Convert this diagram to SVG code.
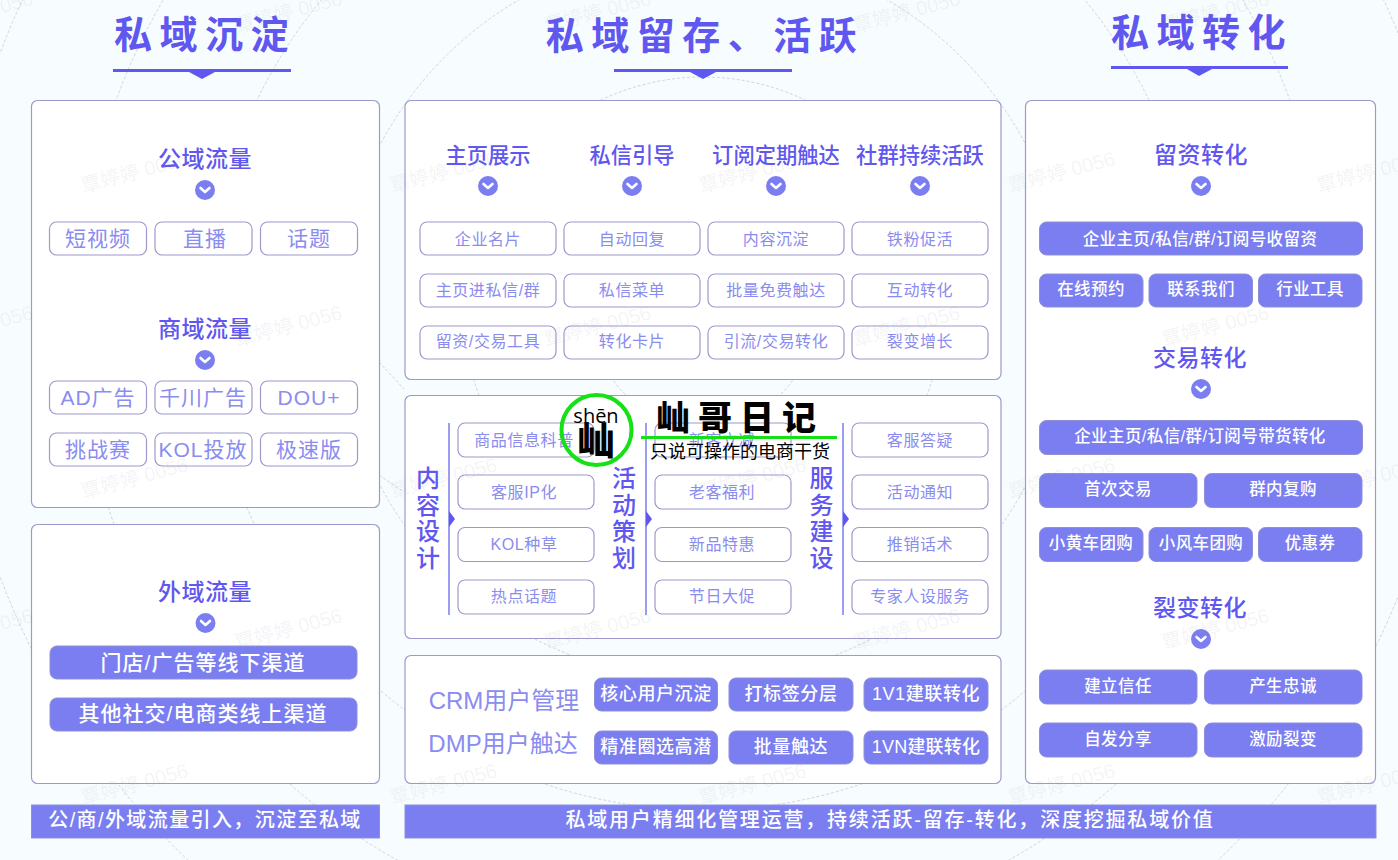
<svg xmlns="http://www.w3.org/2000/svg" width="1398" height="860" viewBox="0 0 1398 860">
<style>
text{font-family:"Liberation Sans","Noto Sans CJK SC",sans-serif;text-anchor:middle;dominant-baseline:central}
.bg{fill:#f7fdfe}
.ring{fill:none;stroke:#cfd3e4;stroke-width:1;stroke-dasharray:3 2}
.panel{fill:#fff;stroke:#9d99cc;stroke-width:1.2}
.title{font-size:38px;font-weight:700;fill:#5f57f0;letter-spacing:7.5px}
.accent{fill:#5f57f0}
.sec{font-size:23px;font-weight:500;fill:#5f57f0;letter-spacing:.5px}
.sm{font-size:21.300px;letter-spacing:0}
.po{fill:#fff;stroke:#9d99cc;stroke-width:1.2}
.pf{fill:#7a7ef0;stroke:#8f8fd8;stroke-width:1}
.tl{font-size:21px;fill:#8a8cf0;letter-spacing:1px}
.tm{font-size:16px;fill:#8a8cf0;letter-spacing:.6px}
.ft{font-size:16.500px;fill:#fff;font-weight:500;letter-spacing:.4px}
.fl{font-size:21px;fill:#fff;font-weight:500;letter-spacing:1px}
.fc{font-size:18px;fill:#fff;font-weight:500;letter-spacing:.6px}
.vt{font-size:24px;font-weight:500;fill:#5f57f0}
.lab{font-size:24px;fill:#8a8cf0}
.bar{fill:#7a7ef0;stroke:#8f8fd8;stroke-width:1}
.bt{font-size:20px;fill:#fff;font-weight:500;letter-spacing:1.800px}
.wm{font-size:20px;fill:#8a93a0;fill-opacity:.1;text-anchor:start;dominant-baseline:alphabetic}
.vl{stroke:#7a7ef0;stroke-width:1.5}
.blk{fill:#000}
</style>
<defs>
<g id="chev"><circle r="10" fill="#7a7ef0"/><path d="M-4.5-2 0 2 4.5-2" fill="none" stroke="#fff" stroke-width="2.6" stroke-linecap="round" stroke-linejoin="round"/></g>
</defs>
<rect class="bg" width="1398" height="860"/>
<g id="background-rings">
<circle class="ring" cx="703" cy="315" r="111"/>
<circle class="ring" cx="703" cy="315" r="238" stroke="#c9cdea"/>
<circle class="ring" cx="703" cy="315" r="365"/>
<circle class="ring" cx="703" cy="315" r="495"/>
<circle class="ring" cx="703" cy="315" r="625"/>
<circle class="ring" cx="703" cy="315" r="750"/>
<path class="ring" d="M379 362 404 389M379 475 404 492M517 808Q545 822 574 832M886 810Q860 824 831 834"/>
</g>

<g id="col1-heading"><text class="title" x="205" y="35">私域沉淀</text><rect class="accent" x="113" y="69" width="178" height="3"/><path class="accent" d="M189 72H215L202 79Z"/></g>
<g id="col2-heading"><text class="title" x="705" y="36">私域留存、活跃</text><rect class="accent" x="614" y="69" width="178" height="3"/><path class="accent" d="M690 72H716L703 79Z"/></g>
<g id="col3-heading"><text class="title" x="1202" y="33">私域转化</text><rect class="accent" x="1111" y="66" width="177" height="3"/><path class="accent" d="M1187 69H1212L1199 76Z"/></g>

<g id="panel-public">
<rect class="panel" x="31.500" y="100.500" width="348" height="407" rx="6"/>
<text class="sec" x="205" y="159">公域流量</text><use href="#chev" x="205" y="190"/>
<text class="sec" x="205" y="329">商域流量</text><use href="#chev" x="205" y="360"/>
</g>
<g id="n-duanshipin"><rect class="po" x="49.500" y="222" width="97" height="33" rx="7"/><text class="tl" x="98" y="238">短视频</text></g>
<g id="n-zhibo"><rect class="po" x="155" y="222" width="97" height="33" rx="7"/><text class="tl" x="205" y="238">直播</text></g>
<g id="n-huati"><rect class="po" x="260.500" y="222" width="97" height="33" rx="7"/><text class="tl" x="309" y="238">话题</text></g>
<g id="n-ad"><rect class="po" x="49.500" y="381" width="97" height="33" rx="7"/><text class="tl" x="98" y="397">AD广告</text></g>
<g id="n-qianchuan"><rect class="po" x="155" y="381" width="97" height="33" rx="7"/><text class="tl" x="203" y="397">千川广告</text></g>
<g id="n-dou"><rect class="po" x="260.500" y="381" width="97" height="33" rx="7"/><text class="tl" x="309" y="397">DOU+</text></g>
<g id="n-tiaozhan"><rect class="po" x="49.500" y="433" width="97" height="33" rx="7"/><text class="tl" x="98" y="449">挑战赛</text></g>
<g id="n-kol"><rect class="po" x="155" y="433" width="97" height="33" rx="7"/><text class="tl" x="203" y="449">KOL投放</text></g>
<g id="n-jisu"><rect class="po" x="260.500" y="433" width="97" height="33" rx="7"/><text class="tl" x="309" y="449">极速版</text></g>

<g id="panel-external">
<rect class="panel" x="31.500" y="524.500" width="348" height="259" rx="6"/>
<text class="sec" x="205" y="592">外域流量</text><use href="#chev" x="205.500" y="623"/>
</g>
<g id="n-mendian"><rect class="pf" x="50" y="646" width="307" height="33" rx="7"/><text class="fl" x="203" y="662">门店/广告等线下渠道</text></g>
<g id="n-qita"><rect class="pf" x="50" y="698" width="307" height="33" rx="7"/><text class="fl" x="203" y="713">其他社交/电商类线上渠道</text></g>
<g id="bar-left"><rect class="bar" x="31.500" y="805" width="348" height="33"/><text class="bt" x="205" y="820" style="letter-spacing:1.4px">公/商/外域流量引入，沉淀至私域</text></g>

<g id="panel-top-mid">
<rect class="panel" x="405" y="100.500" width="596" height="279" rx="6"/>
<text class="sec sm" x="488" y="156">主页展示</text><use href="#chev" x="488" y="186"/>
<text class="sec sm" x="632" y="156">私信引导</text><use href="#chev" x="632" y="186"/>
<text class="sec sm" x="776" y="156">订阅定期触达</text><use href="#chev" x="776" y="186"/>
<text class="sec sm" x="920" y="156">社群持续活跃</text><use href="#chev" x="920" y="186"/>
</g>
<g id="n-a1"><rect class="po" x="420" y="222" width="136" height="33" rx="7"/><text class="tm" x="488" y="239">企业名片</text></g>
<g id="n-a2"><rect class="po" x="564" y="222" width="136" height="33" rx="7"/><text class="tm" x="632" y="239">自动回复</text></g>
<g id="n-a3"><rect class="po" x="708" y="222" width="136" height="33" rx="7"/><text class="tm" x="776" y="239">内容沉淀</text></g>
<g id="n-a4"><rect class="po" x="852" y="222" width="136" height="33" rx="7"/><text class="tm" x="920" y="239">铁粉促活</text></g>
<g id="n-b1"><rect class="po" x="420" y="274" width="136" height="33" rx="7"/><text class="tm" x="488" y="290">主页进私信/群</text></g>
<g id="n-b2"><rect class="po" x="564" y="274" width="136" height="33" rx="7"/><text class="tm" x="632" y="290">私信菜单</text></g>
<g id="n-b3"><rect class="po" x="708" y="274" width="136" height="33" rx="7"/><text class="tm" x="776" y="290">批量免费触达</text></g>
<g id="n-b4"><rect class="po" x="852" y="274" width="136" height="33" rx="7"/><text class="tm" x="920" y="290">互动转化</text></g>
<g id="n-c1"><rect class="po" x="420" y="326" width="136" height="33" rx="7"/><text class="tm" x="488" y="341">留资/交易工具</text></g>
<g id="n-c2"><rect class="po" x="564" y="326" width="136" height="33" rx="7"/><text class="tm" x="632" y="341">转化卡片</text></g>
<g id="n-c3"><rect class="po" x="708" y="326" width="136" height="33" rx="7"/><text class="tm" x="776" y="341">引流/交易转化</text></g>
<g id="n-c4"><rect class="po" x="852" y="326" width="136" height="33" rx="7"/><text class="tm" x="920" y="341">裂变增长</text></g>

<g id="panel-ops"><rect class="panel" x="405" y="395.500" width="596" height="243" rx="6"/>
<text class="vt" x="428" y="478">内</text><text class="vt" x="428" y="505">容</text><text class="vt" x="428" y="531">设</text><text class="vt" x="428" y="558">计</text>
<text class="vt" x="624" y="478">活</text><text class="vt" x="624" y="505">动</text><text class="vt" x="624" y="531">策</text><text class="vt" x="624" y="558">划</text>
<text class="vt" x="821.500" y="478">服</text><text class="vt" x="821.500" y="505">务</text><text class="vt" x="821.500" y="531">建</text><text class="vt" x="821.500" y="558">设</text>
</g>
<g id="connectors">
<path class="vl" d="M449 423V615M646 423V615M843 423V615"/>
<path class="accent" d="M449 511 455 519 449 527ZM646 511 652 519 646 527ZM843 511 849 519 843 527Z"/>
</g>
<g id="n-d1"><rect class="po" x="458" y="423" width="136" height="34" rx="7"/><text class="tm" x="524" y="440">商品信息科普</text></g>
<g id="n-d2"><rect class="po" x="458" y="475" width="136" height="34" rx="7"/><text class="tm" x="524" y="492">客服IP化</text></g>
<g id="n-d3"><rect class="po" x="458" y="527.500" width="136" height="34" rx="7"/><text class="tm" x="524" y="544">KOL种草</text></g>
<g id="n-d4"><rect class="po" x="458" y="580" width="136" height="34" rx="7"/><text class="tm" x="524" y="596">热点话题</text></g>
<g id="n-e1"><rect class="po" x="655" y="423" width="136" height="34" rx="7"/><text class="tm" x="722" y="440">新客立减</text></g>
<g id="n-e2"><rect class="po" x="655" y="475" width="136" height="34" rx="7"/><text class="tm" x="722" y="492">老客福利</text></g>
<g id="n-e3"><rect class="po" x="655" y="527.500" width="136" height="34" rx="7"/><text class="tm" x="722" y="544">新品特惠</text></g>
<g id="n-e4"><rect class="po" x="655" y="580" width="136" height="34" rx="7"/><text class="tm" x="722" y="596">节日大促</text></g>
<g id="n-f1"><rect class="po" x="852" y="423" width="136" height="34" rx="7"/><text class="tm" x="920" y="440">客服答疑</text></g>
<g id="n-f2"><rect class="po" x="852" y="475" width="136" height="34" rx="7"/><text class="tm" x="920" y="492">活动通知</text></g>
<g id="n-f3"><rect class="po" x="852" y="527.500" width="136" height="34" rx="7"/><text class="tm" x="920" y="544">推销话术</text></g>
<g id="n-f4"><rect class="po" x="852" y="580" width="136" height="34" rx="7"/><text class="tm" x="920" y="596">专家人设服务</text></g>

<g id="panel-crm"><rect class="panel" x="405" y="655.500" width="596" height="128" rx="6"/>
<text class="lab" x="504" y="700">CRM用户管理</text><text class="lab" x="503" y="743">DMP用户触达</text></g>
<g id="n-g1"><rect class="pf" x="594.500" y="678" width="123" height="33" rx="7"/><text class="fc" x="656" y="694">核心用户沉淀</text></g>
<g id="n-g2"><rect class="pf" x="729" y="678" width="124" height="33" rx="7"/><text class="fc" x="791" y="694">打标签分层</text></g>
<g id="n-g3"><rect class="pf" x="864" y="678" width="124" height="33" rx="7"/><text class="fc" x="926" y="694">1V1建联转化</text></g>
<g id="n-h1"><rect class="pf" x="594.500" y="731" width="123" height="33" rx="7"/><text class="fc" x="656" y="747">精准圈选高潜</text></g>
<g id="n-h2"><rect class="pf" x="729" y="731" width="124" height="33" rx="7"/><text class="fc" x="791" y="747">批量触达</text></g>
<g id="n-h3"><rect class="pf" x="864" y="731" width="124" height="33" rx="7"/><text class="fc" x="926" y="747" style="letter-spacing:.2px">1VN建联转化</text></g>
<g id="bar-right"><rect class="bar" x="405" y="805" width="971" height="33"/><text class="bt" x="890" y="820">私域用户精细化管理运营，持续活跃-留存-转化，深度挖掘私域价值</text></g>

<g id="panel-convert"><rect class="panel" x="1025.500" y="100.500" width="350" height="683" rx="6"/>
<text class="sec" x="1201" y="155">留资转化</text><use href="#chev" x="1201" y="186"/>
<text class="sec" x="1200" y="358">交易转化</text><use href="#chev" x="1201" y="389"/>
<text class="sec" x="1200" y="608">裂变转化</text><use href="#chev" x="1201" y="639"/>
</g>
<g id="n-r1"><rect class="pf" x="1039.500" y="222" width="323" height="33" rx="7"/><text class="ft" x="1200" y="239">企业主页/私信/群/订阅号收留资</text></g>
<g id="n-r2"><rect class="pf" x="1039.500" y="274" width="103.500" height="33" rx="7"/><text class="ft" x="1091" y="289">在线预约</text></g>
<g id="n-r3"><rect class="pf" x="1149" y="274" width="103.500" height="33" rx="7"/><text class="ft" x="1201" y="289">联系我们</text></g>
<g id="n-r4"><rect class="pf" x="1258.500" y="274" width="103.500" height="33" rx="7"/><text class="ft" x="1310" y="289">行业工具</text></g>
<g id="n-r5"><rect class="pf" x="1039.500" y="420.500" width="323" height="34" rx="7"/><text class="ft" x="1200" y="436">企业主页/私信/群/订阅号带货转化</text></g>
<g id="n-r6"><rect class="pf" x="1039.500" y="473.500" width="157.500" height="34" rx="7"/><text class="ft" x="1118" y="489">首次交易</text></g>
<g id="n-r7"><rect class="pf" x="1204.500" y="473.500" width="157.500" height="34" rx="7"/><text class="ft" x="1283" y="489">群内复购</text></g>
<g id="n-r8"><rect class="pf" x="1039.500" y="527.500" width="103.500" height="34" rx="7"/><text class="ft" x="1091" y="543">小黄车团购</text></g>
<g id="n-r9"><rect class="pf" x="1149" y="527.500" width="103.500" height="34" rx="7"/><text class="ft" x="1201" y="543">小风车团购</text></g>
<g id="n-r10"><rect class="pf" x="1258.500" y="527.500" width="103.500" height="34" rx="7"/><text class="ft" x="1310" y="543">优惠券</text></g>
<g id="n-r11"><rect class="pf" x="1039.500" y="670" width="157.500" height="34" rx="7"/><text class="ft" x="1118" y="686">建立信任</text></g>
<g id="n-r12"><rect class="pf" x="1204.500" y="670" width="157.500" height="34" rx="7"/><text class="ft" x="1283" y="686">产生忠诚</text></g>
<g id="n-r13"><rect class="pf" x="1039.500" y="723" width="157.500" height="34" rx="7"/><text class="ft" x="1118" y="739">自发分享</text></g>
<g id="n-r14"><rect class="pf" x="1204.500" y="723" width="157.500" height="34" rx="7"/><text class="ft" x="1283" y="739">激励裂变</text></g>

<g id="watermarks">
<text class="wm" transform="translate(237 33) rotate(-15)">覃婷婷 0056</text><text class="wm" transform="translate(546 33) rotate(-15)">覃婷婷 0056</text><text class="wm" transform="translate(855 33) rotate(-15)">覃婷婷 0056</text><text class="wm" transform="translate(1164 33) rotate(-15)">覃婷婷 0056</text><text class="wm" transform="translate(-72 33) rotate(-15)">覃婷婷 0056</text>
<text class="wm" transform="translate(83 193) rotate(-15)">覃婷婷 0056</text><text class="wm" transform="translate(392 193) rotate(-15)">覃婷婷 0056</text><text class="wm" transform="translate(701 193) rotate(-15)">覃婷婷 0056</text><text class="wm" transform="translate(1010 193) rotate(-15)">覃婷婷 0056</text><text class="wm" transform="translate(1319 193) rotate(-15)">覃婷婷 0056</text>
<text class="wm" transform="translate(237 347) rotate(-15)">覃婷婷 0056</text><text class="wm" transform="translate(546 347) rotate(-15)">覃婷婷 0056</text><text class="wm" transform="translate(855 347) rotate(-15)">覃婷婷 0056</text><text class="wm" transform="translate(1164 347) rotate(-15)">覃婷婷 0056</text><text class="wm" transform="translate(-72 347) rotate(-15)">覃婷婷 0056</text>
<text class="wm" transform="translate(83 499) rotate(-15)">覃婷婷 0056</text><text class="wm" transform="translate(392 499) rotate(-15)">覃婷婷 0056</text><text class="wm" transform="translate(701 499) rotate(-15)">覃婷婷 0056</text><text class="wm" transform="translate(1010 499) rotate(-15)">覃婷婷 0056</text><text class="wm" transform="translate(1319 499) rotate(-15)">覃婷婷 0056</text>
<text class="wm" transform="translate(237 650) rotate(-15)">覃婷婷 0056</text><text class="wm" transform="translate(546 650) rotate(-15)">覃婷婷 0056</text><text class="wm" transform="translate(855 650) rotate(-15)">覃婷婷 0056</text><text class="wm" transform="translate(1164 650) rotate(-15)">覃婷婷 0056</text><text class="wm" transform="translate(-72 650) rotate(-15)">覃婷婷 0056</text>
<text class="wm" transform="translate(83 805) rotate(-15)">覃婷婷 0056</text><text class="wm" transform="translate(392 805) rotate(-15)">覃婷婷 0056</text><text class="wm" transform="translate(701 805) rotate(-15)">覃婷婷 0056</text><text class="wm" transform="translate(1010 805) rotate(-15)">覃婷婷 0056</text><text class="wm" transform="translate(1319 805) rotate(-15)">覃婷婷 0056</text>
</g>

<g id="brand-stamp">
<circle cx="596.500" cy="430" r="35" fill="none" stroke="#16e016" stroke-width="4"/>
<text class="blk" x="596" y="415" style="font-size:20px;font-family:'Open Sans','Noto Sans',sans-serif">shēn</text>
<text class="blk" x="596" y="441" style="font-size:38px;font-weight:900">屾</text>
<text class="blk" x="740" y="418" style="font-size:34px;font-weight:900;letter-spacing:8px">屾哥日记</text>
<rect x="641" y="436" width="196" height="3" fill="#16e016"/>
<text class="blk" x="740" y="452" style="font-size:18px">只说可操作的电商干货</text>
</g>
</svg>
